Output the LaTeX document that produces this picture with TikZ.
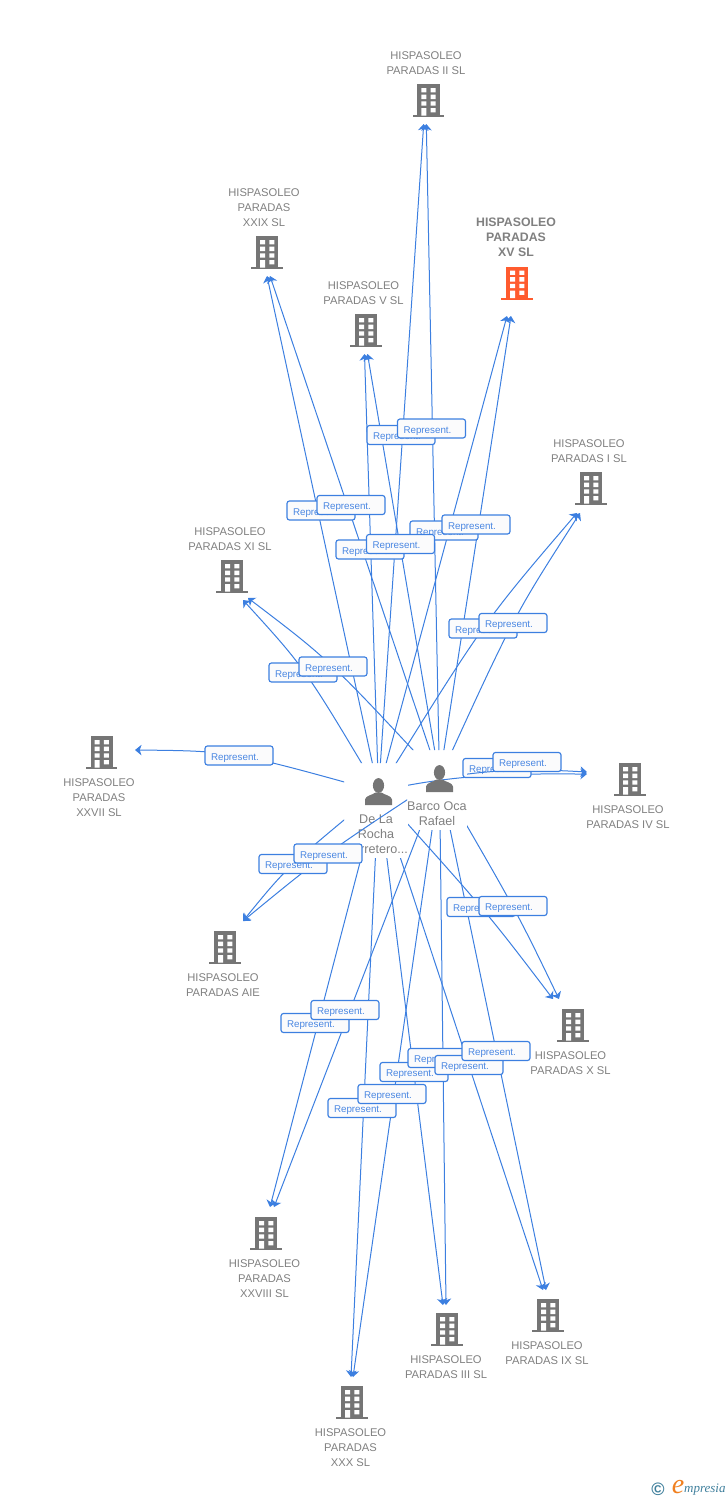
\documentclass[tikz,border=0pt]{standalone}
\usepackage{fontspec}
\setmainfont{Liberation Sans}
\newfontfamily\logofont{Liberation Serif}
\usetikzlibrary{arrows.meta}
\definecolor{linkblue}{HTML}{3C7FE0}
\definecolor{boxtext}{HTML}{4A87E2}
\definecolor{boxfill}{HTML}{FBFBFC}
\definecolor{icongray}{HTML}{757575}
\definecolor{labelgray}{HTML}{808080}
\definecolor{hotorange}{HTML}{FF5B2E}
\definecolor{logoteal}{HTML}{3F7F9C}
\definecolor{logoorange}{HTML}{F08020}
\tikzset{
  link/.style={draw=linkblue,line width=1pt,-{Stealth[length=6.5pt,width=10.5pt,inset=1.8pt]}},
  repbox/.style={draw=linkblue,line width=1.15pt,fill=boxfill,rounded corners=2.5pt,text=boxtext,
    font=\fontsize{9.8}{11}\selectfont,minimum height=19pt,text width=56pt,align=left,inner xsep=6pt,inner ysep=0pt,
    text height=10pt,text depth=1pt},
  complabel/.style={text=labelgray,font=\fontsize{11.2}{15}\selectfont,align=center,inner sep=0pt,yshift=-0.7pt},
  hotlabel/.style={text=labelgray,font=\fontsize{12.3}{15}\bfseries\selectfont,align=center,inner sep=0pt},
  personlabel/.style={text=labelgray,font=\fontsize{12.6}{15}\selectfont,align=center,inner sep=0pt},
  iconspot/.style={inner sep=0pt,minimum width=32pt,minimum height=34pt},
}
\newcommand\bldg[3][icongray]{%
  \node[iconspot] (#2) at (#3) {};
  \begin{scope}[shift={(#3)}]
    \fill[#1] (-11,-17) rectangle (11.2,15);
    \fill[#1] (-15.8,14) rectangle (15.8,16.4);
    \fill[white] (-7,-13) rectangle (-2,-8.7) (2.3,-13) rectangle (7.3,-8.7)
      (-7,-6.3) rectangle (-2,-2) (2.3,-6.3) rectangle (7.3,-2)
      (-7,0.3) rectangle (-2,4.7) (2.3,0.3) rectangle (7.3,4.7)
      (-7,7) rectangle (-2,14.7) (2.3,7) rectangle (7.3,11.3);
  \end{scope}}
\newcommand\personicon[2]{%
  \node[inner sep=0pt,minimum size=27pt] (#1) at (#2) {};
  \begin{scope}[shift={(#2)}]
    \fill[icongray] (0,-6) ellipse (5.6 and 7.4);
    \fill[icongray] (-13.5,13.5) -- (-13.5,8) .. controls (-13,4) and (-6,3.5) .. (-3,1)
      -- (3,1) .. controls (6,3.5) and (13,4) .. (13.5,8) -- (13.5,13.5) -- cycle;
  \end{scope}}
\newcommand\rep[2]{\node[repbox] (#1) at (#2) {Represent.};}
\begin{document}
\begin{tikzpicture}[x=1pt,y=-1pt]
\useasboundingbox (0,0) rectangle (728,1500);
% company icons
\bldg{cII}{428.3,101}
\bldg{cXXIX}{267,253}
\bldg[hotorange]{cXV}{517,283.5}
\bldg{cV}{366,331}
\bldg{cI}{591,489}
\bldg{cXI}{232,577}
\bldg{cXXVII}{101.5,753}
\bldg{cIV}{630,780}
\bldg{cAIE}{225,948}
\bldg{cX}{573,1026}
\bldg{cXXVIII}{266,1234}
\bldg{cIII}{447,1330}
\bldg{cIX}{548,1316}
\bldg{cXXX}{352,1403}
% company labels
\node[complabel] (lII) at (426,62.5) {HISPASOLEO\\PARADAS II SL};
\node[complabel] (lXXIX) at (264,207) {HISPASOLEO\\PARADAS\\XXIX SL};
\node[hotlabel] (lXV) at (516,237) {HISPASOLEO\\PARADAS\\XV SL};
\node[complabel] (lV) at (363.5,292.5) {HISPASOLEO\\PARADAS V SL};
\node[complabel] (lI) at (589,450.5) {HISPASOLEO\\PARADAS I SL};
\node[complabel] (lXI) at (230,538.5) {HISPASOLEO\\PARADAS XI SL};
\node[complabel] (lXXVII) at (99,797) {HISPASOLEO\\PARADAS\\XXVII SL};
\node[complabel] (lIV) at (628,816.5) {HISPASOLEO\\PARADAS IV SL};
\node[complabel] (lAIE) at (223,984.5) {HISPASOLEO\\PARADAS AIE};
\node[complabel] (lX) at (570.5,1062.5) {HISPASOLEO\\PARADAS X SL};
\node[complabel] (lXXVIII) at (264.5,1278) {HISPASOLEO\\PARADAS\\XXVIII SL};
\node[complabel] (lIII) at (446,1366.5) {HISPASOLEO\\PARADAS III SL};
\node[complabel] (lIX) at (547,1352.5) {HISPASOLEO\\PARADAS IX SL};
\node[complabel] (lXXX) at (350.5,1447) {HISPASOLEO\\PARADAS\\XXX SL};
% persons
\node[personlabel] (lDela) at (376,834) {De La\\Rocha\\Carretero...};
\node[personlabel] (lBarco) at (437,813.5) {Barco Oca\\Rafael};
\coordinate (dela) at (378.5,791.5);
\coordinate (barco) at (439.5,778.5);
% arrow ends
\coordinate (dII) at (423.7,124);   \coordinate (bII) at (426.3,124);
\coordinate (dXXIX) at (267,276); \coordinate (bXXIX) at (270,276);
\coordinate (dXV) at (507,316);   \coordinate (bXV) at (511,316);
\coordinate (dV) at (364.5,354);  \coordinate (bV) at (367.5,354);
\coordinate (dI) at (577,513);    \coordinate (bI) at (580,513);
\coordinate (dXI) at (243,600);   \coordinate (bXI) at (248,598);
\coordinate (dXXVII) at (135,750);
\coordinate (dIV) at (587,774);   \coordinate (bIV) at (587,772);
\coordinate (dAIE) at (243,921);  \coordinate (bAIE) at (243,921);
\coordinate (dX) at (553,999);    \coordinate (bX) at (559,999);
\coordinate (dXXVIII) at (270,1207); \coordinate (bXXVIII) at (274,1207);
\coordinate (dXXX) at (351,1377); \coordinate (bXXX) at (353,1377);
\coordinate (dIII) at (443,1305); \coordinate (bIII) at (446,1305);
\coordinate (dIX) at (543,1290);  \coordinate (bIX) at (546,1290);
% links of De La Rocha
\begin{scope}[even odd rule]
\clip (0,0) rectangle (728,1500) (344,763) rectangle (408,858);
\draw[link] (dela) -- (dII);
\draw[link] (dela) -- (dXXIX);
\draw[link] (dela) -- (dXV);
\draw[link] (dela) -- (dV);
\draw[link] (dela) .. controls (484.8,620.6) .. (dI);
\draw[link] (dela) .. controls (305,668) .. (dXI);
\draw[link] (dela) .. controls (233,751) .. (dXXVII);
\draw[link] (dela) .. controls (460,772) and (530,774) .. (dIV);
\draw[link] (dela) .. controls (287,867) .. (dAIE);
\draw[link] (dela) .. controls (486,911) .. (dX);
\draw[link] (dela) -- (dXXVIII);
\draw[link] (dela) -- (dXXX);
\draw[link] (dela) -- (dIII);
\draw[link] (dela) -- (dIX);
\end{scope}
% links of Barco Oca
\begin{scope}[even odd rule]
\clip (0,0) rectangle (728,1500) (407,750) rectangle (467,830);
\draw[link] (barco) -- (bII);
\draw[link] (barco) -- (bXXIX);
\draw[link] (barco) -- (bXV);
\draw[link] (barco) -- (bV);
\draw[link] (barco) .. controls (514,615.5) .. (bI);
\draw[link] (barco) .. controls (329.5,660) .. (bXI);
\draw[link] (barco) .. controls (323.6,854.8) .. (bAIE);
\draw[link] (barco) .. controls (517,912) .. (bX);
\draw[link] (barco) -- (bXXVIII);
\draw[link] (barco) -- (bXXX);
\draw[link] (barco) -- (bIII);
\draw[link] (barco) -- (bIX);
\end{scope}
% relation boxes
\rep{rdII}{401,435}
\rep{rdXXIX}{321,510.5}
\rep{rdV}{370,549.5}
\rep{rdXV}{444,530.5}
\rep{rdI}{483,628.5}
\rep{rdXI}{303,672.5}
\rep{rdXXVII}{239,755.5}
\rep{rdIV}{497,768}
\rep{rdAIE}{293,864}
\rep{rdX}{481,907}
\rep{rdXXVIII}{315,1023}
\rep{rdXXX}{362,1108}
\rep{rdIII}{414,1072}
\rep{rbIII}{442,1058}
\rep{rdIX}{469,1065}
\begin{scope}[even odd rule]
\clip (0,0) rectangle (728,1500) (407,750) rectangle (467,830);
\draw[link] (barco) .. controls (500,767) and (550,770) .. (bIV);
\end{scope}
\rep{rbII}{431.5,428.5}
\rep{rbXXIX}{351,505}
\rep{rbV}{400.5,544}
\rep{rbXV}{476,524.5}
\rep{rbI}{513,623}
\rep{rbXI}{333,666.5}
\rep{rbIV}{527,762}
\rep{rbAIE}{328,853.5}
\rep{rbX}{513,906}
\rep{rbXXVIII}{345,1010}
\rep{rbXXX}{392,1094}
\rep{rbIX}{496,1051}
% person icons
\personicon{pDela}{378.5,791.5}
\personicon{pBarco}{439.5,778.5}
% logo
\node[text=logoteal,font=\bfseries\fontsize{18}{18}\selectfont,inner sep=0pt] (logoC) at (658,1489) {©};
\node[text=logoorange,font=\logofont\itshape\fontsize{28}{28}\selectfont,inner sep=0pt] (logoE) at (678,1487) {e};
\node[text=logoteal,font=\logofont\itshape\fontsize{13}{13}\selectfont,inner sep=0pt,anchor=west] (logoT) at (684,1489.5) {mpresia};
\end{tikzpicture}
\end{document}
